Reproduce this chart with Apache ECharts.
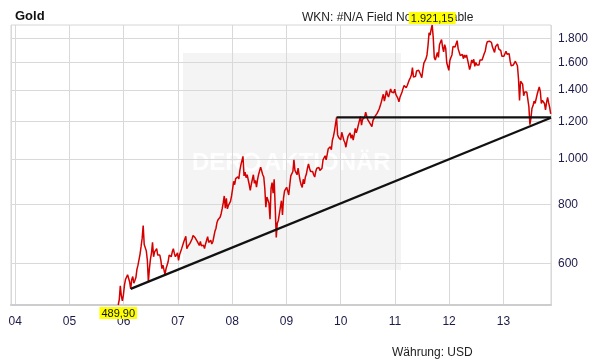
<!DOCTYPE html>
<html><head><meta charset="utf-8">
<script src="https://cdn.jsdelivr.net/npm/echarts@6/dist/echarts.min.js"></script>
<style>html,body{margin:0;padding:0;background:#fff}#c{width:611px;height:364px}</style>
</head><body><div id="c"></div>
<script>
// weekly (Friday) gold prices in USD, first Friday of each block below
const blockStarts = ['2005-11-25','2006-01-06','2007-01-05','2008-01-04','2009-01-02','2010-01-01','2011-01-07','2012-01-06','2013-01-04'];
const gold2005 = [489.9,503,538,512,500,515];
const gold2006 = [540,555,558,568, 570,548,530,555, 563,545,552,560,583, 595,600,628,652, 678,722,658,655, 638,610,548,585,613, 632,665,620,635, 640,645,625,620, 625,610,585,595,598, 568,585,595,605, 625,625,620,635, 645,630,620,620,632];
const gold2007 = [609,626,632,645, 650,666,664,685, 645,652,655,662,663, 676,688,692,680, 683,668,662,655, 668,654,655,656,645, 660,666,684,665, 668,672,660,667,673, 702,712,733,743, 738,752,765,784, 806,834,786,825,783, 797,797,812,834];
const gold2008 = [862,896,881,908, 910,916,906,945,971, 975,1012,920,937, 912,925,923,882, 857,883,877,925,887, 900,871,903,926, 933,960,955,925, 915,865,790,830,830, 805,745,865,890, 845,905,790,681,730, 740,745,790,815, 760,825,855,850];
const gold2009 = [870,855,838,880,920, 912,940,995,945, 940,925,955,925, 898,880,870,905, 885,915,928,955,975, 955,940,935,940, 925,915,940,955,955, 958,945,945,955, 995,1005,1015,995, 1000,1050,1055,1060,1045, 1095,1115,1145,1185, 1224,1125,1110,1105];
const gold2010 = [1097,1138,1140,1095,1083, 1058,1090,1115,1110, 1135,1105,1125,1095, 1125,1160,1135,1155,1180, 1205,1230,1178,1212, 1210,1225,1256,1255, 1210,1210,1190,1190,1170, 1205,1215,1230,1235, 1248,1245,1275,1296, 1317,1345,1370,1325,1355, 1395,1367,1352,1363, 1406,1385,1376,1380,1405];
const gold2011 = [1370,1360,1343,1320, 1350,1360,1385,1410, 1430,1420,1415,1430, 1430,1470,1485,1505,1560, 1490,1495,1495,1535, 1540,1540,1538,1505, 1485,1543,1595,1600,1628, 1660,1740,1850,1828, 1880,1921.15,1810,1640,1620, 1650,1680,1640,1745, 1755,1790,1725,1685, 1745,1715,1598,1605,1540];
const gold2012 = [1615,1640,1660,1730, 1740,1725,1730,1780, 1710,1705,1655,1665,1665, 1630,1660,1640,1660, 1645,1585,1545,1575, 1620,1595,1625,1570,1600, 1580,1590,1580,1620, 1605,1620,1615,1670,1690, 1740,1770,1775,1775, 1785,1765,1725,1710, 1680,1730,1715,1750,1710, 1700,1695,1650,1660];
const gold2013 = [1650,1660,1690,1665, 1665,1670,1610,1575, 1575,1580,1590,1610,1595, 1575,1480,1330,1460, 1470,1440,1360,1385,1390, 1385,1385,1290,1181, 1220,1280,1295,1325, 1310,1315,1370,1395,1420, 1390,1310,1330,1335, 1310,1270,1315,1350, 1315,1285,1245];
const goldBlocks = [gold2005,gold2006,gold2007,gold2008,gold2009,gold2010,gold2011,gold2012,gold2013];

// trend lines drawn on the chart
const trendHorizontal = [['2009-12-04',1224],['2013-11-17',1224]];
const trendDiagonal = [['2006-02-17',530],['2013-11-17',1222]];

// axes
const xRange = ['2003-12-04','2013-11-17'];
const yRange = [489.9, 1921.15];
const yTickValues = [600,800,1000,1200,1400,1600,1800];

const FONT = '"Liberation Sans", Arial, sans-serif';
const LABEL_COLOR = '#1c1a48';
const YEAR = 365.25 * 864e5;

function de(v, dec){
  const s = Number(v).toFixed(dec);
  let [i,f] = s.split('.');
  i = i.replace(/\B(?=(\d{3})+(?!\d))/g,'.');
  return f ? i + ',' + f : i;
}

const goldData = [];
goldBlocks.forEach((blk, b) => {
  const t0 = Date.parse(blockStarts[b] + 'T00:00:00Z');
  blk.forEach((v, i) => goldData.push([t0 + i * 7 * 864e5, v]));
});
const toT = d => Date.parse(d + 'T00:00:00Z');

const chart = echarts.init(document.getElementById('c'), null, {renderer:'canvas'});
chart.setOption({
  animation:false,
  backgroundColor:'#ffffff',
  textStyle:{fontFamily:FONT},
  title:[
    {text:'Gold', left:10, top:5, z:1, textStyle:{fontSize:13, fontWeight:'bold', color:'#111', fontFamily:FONT}},
    {text:'WKN: #N/A Field Not Applicable', left:297, top:7, z:1, textStyle:{fontSize:12, fontWeight:'normal', color:'#222', fontFamily:FONT}},
    {text:'Währung: USD', left:387, top:342, z:1, textStyle:{fontSize:12, fontWeight:'normal', color:'#222', fontFamily:FONT}}
  ],
  graphic:[
    {type:'rect', z:-10, shape:{x:183, y:53, width:218, height:217}, style:{fill:'#f4f4f4'}},
    {type:'text', z:-9, style:{x:192, y:151, text:'DER', fill:'#fefefe', font:'bold 24px ' + FONT}},
    {type:'circle', z:-9, shape:{cx:251, cy:162, r:8}, style:{fill:'none', stroke:'#fefefe', lineWidth:3}},
    {type:'text', z:-9, style:{x:264, y:151, text:'AKTIONÄR', fill:'#fefefe', font:'bold 24px ' + FONT}}
  ],
  grid:{left:11, right:60, top:25, bottom:59, show:true, borderColor:'#d6d6d6', borderWidth:1, backgroundColor:'transparent'},
  xAxis:{
    type:'time', min:toT(xRange[0]), max:toT(xRange[1]),
    minInterval:YEAR, maxInterval:YEAR,
    axisLine:{show:true, lineStyle:{color:'#cdcdcd', width:2}},
    axisTick:{show:false},
    axisLabel:{margin:11, fontSize:12, color:LABEL_COLOR, fontFamily:FONT, showMinLabel:false, showMaxLabel:false, hideOverlap:false,
      formatter:(v)=>String(new Date(v).getUTCFullYear()).slice(2)},
    splitLine:{show:true, lineStyle:{color:'#d9d9d9', width:1}}
  },
  yAxis:{
    type:'log', logBase:10, min:yRange[0], max:yRange[1], position:'right',
    axisLine:{show:false},
    axisTick:{show:false, customValues:yTickValues},
    axisLabel:{customValues:yTickValues, margin:7, fontSize:12, color:LABEL_COLOR, fontFamily:FONT, formatter:(v)=>de(v,0)},
    splitLine:{show:true, lineStyle:{color:'#d9d9d9', width:1}}
  },
  series:[
    {type:'line', name:'Gold', data:goldData, showSymbol:false, symbol:'none', sampling:'none', z:3,
      lineStyle:{color:'#d40000', width:1.5},
      markPoint:{symbol:'rect', symbolSize:0, silent:true, z:20,
        label:{show:true, fontSize:11, color:'#111', backgroundColor:'#ffff00', padding:[1,2,0,2], distance:1, fontFamily:FONT,
          formatter:(p)=>de(p.value,2)},
        data:[{type:'max', label:{position:'top'}}, {type:'min', label:{position:'bottom', distance:2}}]}
    },
    {type:'line', data:trendHorizontal.map(p=>[toT(p[0]),p[1]]), showSymbol:false, symbol:'none', z:4, lineStyle:{color:'#111', width:2.4}},
    {type:'line', data:trendDiagonal.map(p=>[toT(p[0]),p[1]]), showSymbol:false, symbol:'none', z:4, lineStyle:{color:'#111', width:2.2}}
  ]
});
</script></body></html>
